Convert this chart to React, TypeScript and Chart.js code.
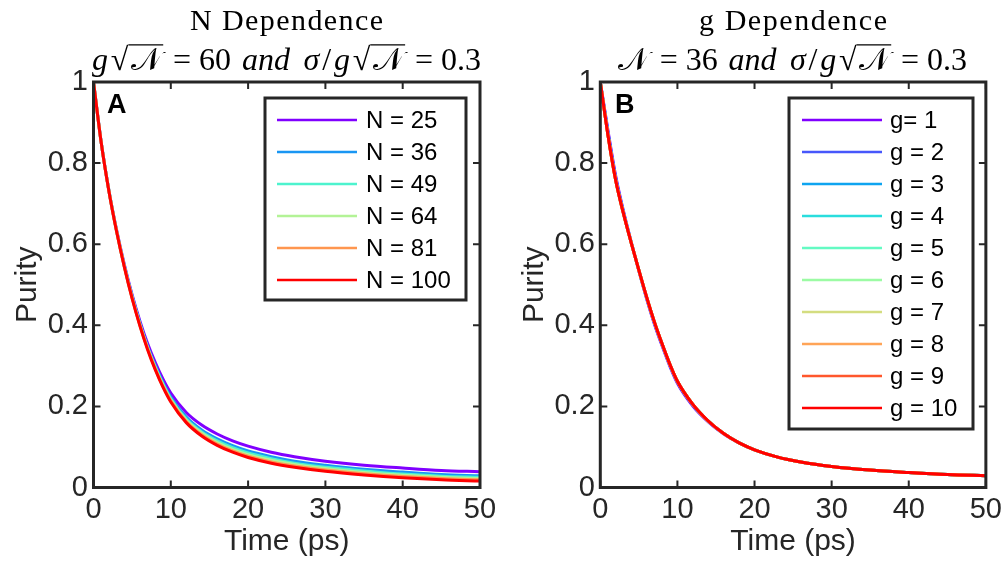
import React, { useEffect, useRef } from "react";
import { Chart, registerables } from "chart.js";

Chart.register(...registerables);

// ---------------- data ----------------
const TIME = [0, 1, 2, 3, 4, 5, 6, 7, 8, 9, 10, 12, 14, 16, 18, 20, 23, 26, 30, 35, 40, 45, 50];
const X_TICKS = [0, 10, 20, 30, 40, 50];
const Y_TICKS = [0, 0.2, 0.4, 0.6, 0.8, 1];

const N_LABELS = ["N = 25", "N = 36", "N = 49", "N = 64", "N = 81", "N = 100"];
const N25 = [1, 0.851, 0.732, 0.634, 0.549, 0.475, 0.411, 0.355, 0.308, 0.267, 0.233, 0.185, 0.154, 0.132, 0.115, 0.102, 0.087, 0.076, 0.065, 0.055, 0.048, 0.042, 0.039];
const N36 = [1, 0.851, 0.731, 0.632, 0.546, 0.471, 0.406, 0.348, 0.300, 0.258, 0.223, 0.174, 0.142, 0.120, 0.103, 0.090, 0.076, 0.065, 0.055, 0.045, 0.038, 0.032, 0.029];
const N49 = [1, 0.850, 0.731, 0.631, 0.545, 0.469, 0.403, 0.345, 0.297, 0.255, 0.219, 0.169, 0.137, 0.115, 0.098, 0.085, 0.071, 0.060, 0.050, 0.041, 0.033, 0.028, 0.025];
const N64 = [1, 0.850, 0.731, 0.631, 0.544, 0.468, 0.402, 0.344, 0.294, 0.252, 0.216, 0.166, 0.134, 0.111, 0.094, 0.081, 0.067, 0.057, 0.047, 0.037, 0.030, 0.025, 0.022];
const N81 = [1, 0.850, 0.730, 0.631, 0.544, 0.467, 0.400, 0.342, 0.292, 0.249, 0.214, 0.163, 0.130, 0.107, 0.090, 0.077, 0.063, 0.053, 0.043, 0.034, 0.027, 0.022, 0.019];
const N100 = [1, 0.850, 0.730, 0.630, 0.543, 0.466, 0.399, 0.340, 0.290, 0.247, 0.211, 0.160, 0.127, 0.104, 0.087, 0.074, 0.060, 0.050, 0.040, 0.031, 0.024, 0.019, 0.016];
const N_SERIES = [N25, N36, N49, N64, N81, N100];
const N_COLORS = ["#8000ff", "#1996f3", "#4df3ce", "#b3f396", "#ff964f", "#ff0000"];

const G_LABELS = ["g= 1", "g = 2", "g = 3", "g = 4", "g = 5", "g = 6", "g = 7", "g = 8", "g = 9", "g = 10"];
const G1 = [1, 0.880, 0.768, 0.682, 0.606, 0.534, 0.466, 0.404, 0.350, 0.300, 0.257, 0.201, 0.162, 0.132, 0.110, 0.093, 0.075, 0.063, 0.052, 0.043, 0.037, 0.032, 0.029];
const G2 = [1, 0.875, 0.763, 0.679, 0.605, 0.535, 0.468, 0.407, 0.353, 0.303, 0.260, 0.203, 0.163, 0.133, 0.110, 0.093, 0.075, 0.063, 0.052, 0.043, 0.037, 0.032, 0.029];
const G3 = [1, 0.872, 0.760, 0.678, 0.605, 0.536, 0.469, 0.408, 0.354, 0.304, 0.261, 0.204, 0.164, 0.133, 0.110, 0.093, 0.075, 0.063, 0.052, 0.043, 0.037, 0.032, 0.029];
const G4 = [1, 0.870, 0.758, 0.677, 0.604, 0.536, 0.470, 0.409, 0.355, 0.305, 0.262, 0.205, 0.164, 0.133, 0.110, 0.093, 0.075, 0.063, 0.052, 0.043, 0.037, 0.032, 0.029];
const G5 = [1, 0.869, 0.757, 0.676, 0.604, 0.536, 0.470, 0.409, 0.355, 0.305, 0.262, 0.205, 0.164, 0.133, 0.110, 0.093, 0.075, 0.063, 0.052, 0.043, 0.037, 0.032, 0.029];
const G6 = [1, 0.868, 0.757, 0.676, 0.604, 0.536, 0.470, 0.409, 0.355, 0.305, 0.262, 0.205, 0.164, 0.133, 0.110, 0.093, 0.075, 0.063, 0.052, 0.043, 0.037, 0.032, 0.029];
const G7 = [1, 0.868, 0.757, 0.676, 0.604, 0.536, 0.470, 0.409, 0.355, 0.305, 0.262, 0.205, 0.164, 0.133, 0.110, 0.093, 0.075, 0.063, 0.052, 0.043, 0.037, 0.032, 0.029];
const G8 = [1, 0.868, 0.757, 0.676, 0.604, 0.536, 0.470, 0.409, 0.355, 0.305, 0.262, 0.205, 0.164, 0.133, 0.110, 0.093, 0.075, 0.063, 0.052, 0.043, 0.037, 0.032, 0.029];
const G9 = [1, 0.868, 0.757, 0.676, 0.604, 0.536, 0.470, 0.409, 0.355, 0.305, 0.262, 0.205, 0.164, 0.133, 0.110, 0.093, 0.075, 0.063, 0.052, 0.043, 0.037, 0.032, 0.029];
const G10 = [1, 0.868, 0.757, 0.676, 0.604, 0.536, 0.470, 0.409, 0.355, 0.305, 0.262, 0.205, 0.164, 0.133, 0.110, 0.093, 0.075, 0.063, 0.052, 0.043, 0.037, 0.032, 0.029];
const G_SERIES = [G1, G2, G3, G4, G5, G6, G7, G8, G9, G10];
const G_COLORS = ["#8000ff", "#4757fb", "#0ea4f0", "#2adddd", "#64fac3", "#9cfba4", "#d4dd80", "#ffa457", "#ff572c", "#ff0000"];

// ---------------- styling ----------------
const SANS = '"Liberation Sans", Arial, Helvetica, sans-serif';
const SERIF = '"Liberation Serif", "Times New Roman", "DejaVu Serif", serif';
const AX = "#262626";

type Seg = { t: string; i?: boolean; over?: boolean };

const MATH_A: Seg[] = [
  { t: "g", i: true }, { t: "√" }, { t: "𝒩", over: true }, { t: " = 60 " },
  { t: "and", i: true }, { t: " " }, { t: "σ", i: true }, { t: "/" },
  { t: "g", i: true }, { t: "√" }, { t: "𝒩", over: true }, { t: " = 0.3" },
];
const MATH_B: Seg[] = [
  { t: "𝒩" }, { t: " = 36 " },
  { t: "and", i: true }, { t: " " }, { t: "σ", i: true }, { t: "/" },
  { t: "g", i: true }, { t: "√" }, { t: "𝒩", over: true }, { t: " = 0.3" },
];

function drawSpaced(ctx: CanvasRenderingContext2D, text: string, cx: number, y: number, target: number) {
  (ctx as any).letterSpacing = "0px";
  const w0 = ctx.measureText(text).width;
  const ls = (target - w0) / Math.max(1, text.length - 1);
  (ctx as any).letterSpacing = `${ls}px`;
  ctx.textAlign = "left";
  ctx.fillText(text, cx - target / 2, y);
  (ctx as any).letterSpacing = "0px";
}

function drawMath(ctx: CanvasRenderingContext2D, segs: Seg[], cx: number, y: number, target: number, size: number) {
  const fontOf = (s: Seg) => `${s.i ? "italic " : ""}${size}px ${SERIF}`;
  const widths = segs.map((s) => { ctx.font = fontOf(s); return ctx.measureText(s.t).width; });
  const total = widths.reduce((a, b) => a + b, 0);
  const gap = (target - total) / (segs.length - 1);
  let x = cx - target / 2;
  ctx.textAlign = "left";
  ctx.textBaseline = "alphabetic";
  let barY = y - size * 0.8;
  let sqrtEnd = x;
  segs.forEach((s, k) => {
    ctx.font = fontOf(s);
    if (s.t === "√") {
      const m = ctx.measureText("√");
      barY = y - m.actualBoundingBoxAscent + 0.8;
      sqrtEnd = x + m.actualBoundingBoxRight - 0.5;
    }
    ctx.fillText(s.t, x, y);
    if (s.over) {
      ctx.save();
      ctx.lineWidth = 1.3;
      ctx.strokeStyle = "#000";
      ctx.beginPath();
      ctx.moveTo(sqrtEnd, barY);
      ctx.lineTo(x + widths[k] + 1, barY);
      ctx.stroke();
      ctx.restore();
    }
    x += widths[k] + gap;
  });
}

const decor = {
  id: "decor",
  afterDraw(chart: any, _args: any, o: any) {
    const ctx: CanvasRenderingContext2D = chart.ctx;
    const { left, right, top, bottom } = chart.chartArea;
    const xs = chart.scales.x;
    const ys = chart.scales.y;
    ctx.save();
    ctx.strokeStyle = AX;
    ctx.lineWidth = 2;
    ctx.beginPath();
    X_TICKS.forEach((v) => {
      const p = xs.getPixelForValue(v);
      ctx.moveTo(p, bottom); ctx.lineTo(p, bottom - 7);
      ctx.moveTo(p, top); ctx.lineTo(p, top + 7);
    });
    Y_TICKS.forEach((v) => {
      const p = ys.getPixelForValue(v);
      ctx.moveTo(left, p); ctx.lineTo(left + 7, p);
      ctx.moveTo(right, p); ctx.lineTo(right - 7, p);
    });
    ctx.stroke();
    ctx.lineWidth = 3;
    ctx.strokeRect(left, top, right - left, bottom - top);

    // legend
    const L = o.legend;
    ctx.fillStyle = "#fff";
    ctx.fillRect(L.x, L.y, L.w, L.h);
    ctx.strokeStyle = AX;
    ctx.lineWidth = 3;
    ctx.strokeRect(L.x, L.y, L.w, L.h);
    chart.data.datasets.forEach((ds: any, i: number) => {
      const yy = L.rowY0 + i * L.rowH;
      ctx.strokeStyle = ds.borderColor;
      ctx.lineWidth = 2.6;
      ctx.beginPath();
      ctx.moveTo(L.lineX0, yy);
      ctx.lineTo(L.lineX1, yy);
      ctx.stroke();
      ctx.fillStyle = "#000";
      ctx.font = `24px ${SANS}`;
      ctx.textBaseline = "middle";
      ctx.textAlign = "left";
      ctx.fillText(ds.label, L.textX, yy + 1);
    });

    // panel letter
    ctx.fillStyle = "#000";
    ctx.font = `bold 27px ${SANS}`;
    ctx.textBaseline = "alphabetic";
    ctx.textAlign = "left";
    ctx.fillText(o.letter, o.letterX, 113);

    // titles
    ctx.font = `30px ${SERIF}`;
    ctx.fillStyle = "#000";
    drawSpaced(ctx, o.title, o.titleX, 30, o.titleW);
    drawMath(ctx, o.math, o.mathX, 70, o.mathW, 32);
    ctx.restore();
  },
};

function makeConfig(p: any) {
  const n = p.series.length;
  return {
    type: "line",
    data: {
      labels: TIME,
      datasets: p.series.map((s: number[], i: number) => ({
        label: p.labels[i],
        data: TIME.map((t, k) => ({ x: t, y: s[k] })),
        borderColor: p.colors[i],
        backgroundColor: p.colors[i],
        borderWidth: 3,
        pointRadius: 0,
        cubicInterpolationMode: "monotone",
        fill: false,
        order: n - i,
      })),
    },
    options: {
      animation: false,
      responsive: false,
      devicePixelRatio: 1,
      events: [],
      layout: { padding: { left: p.padLeft, right: p.padRight, top: 82, bottom: 0 } },
      plugins: {
        legend: { display: false },
        tooltip: { enabled: false },
        title: { display: false },
        decor: p.decor,
      },
      scales: {
        x: {
          type: "linear",
          min: 0,
          max: 50,
          afterFit: (s: any) => { s.height = 83.5; },
          afterBuildTicks: (s: any) => { s.ticks = X_TICKS.map((v) => ({ value: v })); },
          ticks: { font: { family: SANS, size: 29 }, color: AX, padding: 5, maxRotation: 0, autoSkip: false },
          grid: { display: false, drawTicks: false },
          border: { display: false },
          title: { display: true, text: "Time (ps)", font: { family: SANS, size: 30 }, color: AX, padding: { top: 0, bottom: 11 } },
        },
        y: {
          type: "linear",
          min: 0,
          max: 1,
          afterFit: (s: any) => { s.width = 93.5; },
          afterBuildTicks: (s: any) => { s.ticks = Y_TICKS.map((v) => ({ value: v })); },
          ticks: {
            font: { family: SANS, size: 29 }, color: AX, padding: 5.5, autoSkip: false,
            callback: (v: any) => String(Math.round(Number(v) * 10) / 10),
          },
          grid: { display: false, drawTicks: false },
          border: { display: false },
          title: { display: true, text: "Purity", font: { family: SANS, size: 30 }, color: AX, padding: { top: 10, bottom: 0 } },
        },
      },
    },
    plugins: [decor],
  } as any;
}

const PANEL_A = {
  series: N_SERIES, labels: N_LABELS, colors: N_COLORS, padLeft: 0, padRight: 527,
  decor: {
    letter: "A", letterX: 107,
    title: "N Dependence", titleX: 286.5, titleW: 193,
    math: MATH_A, mathX: 286.5, mathW: 389,
    legend: { x: 265, y: 98, w: 201, h: 202, lineX0: 277, lineX1: 357, textX: 366, rowY0: 120, rowH: 32 },
  },
};
const PANEL_B = {
  series: G_SERIES, labels: G_LABELS, colors: G_COLORS, padLeft: 506.8, padRight: 20.3,
  decor: {
    letter: "B", letterX: 615,
    title: "g Dependence", titleX: 793, titleW: 188,
    math: MATH_B, mathX: 792.5, mathW: 349,
    legend: { x: 789, y: 98, w: 184, h: 331, lineX0: 802, lineX1: 882, textX: 890, rowY0: 120, rowH: 32 },
  },
};

function Panel({ p }: { p: any }) {
  const ref = useRef<HTMLCanvasElement>(null);
  useEffect(() => {
    const chart = new Chart(ref.current as HTMLCanvasElement, makeConfig(p));
    return () => chart.destroy();
  }, [p]);
  return (
    <canvas
      ref={ref}
      width={1007}
      height={571}
      style={{ position: "absolute", left: 0, top: 0, width: 1007, height: 571 }}
    />
  );
}

export default function App() {
  return (
    <div style={{ position: "fixed", left: 0, top: 0, width: 1007, height: 571, background: "#fff", overflow: "hidden" }}>
      <Panel p={PANEL_A} />
      <Panel p={PANEL_B} />
    </div>
  );
}
